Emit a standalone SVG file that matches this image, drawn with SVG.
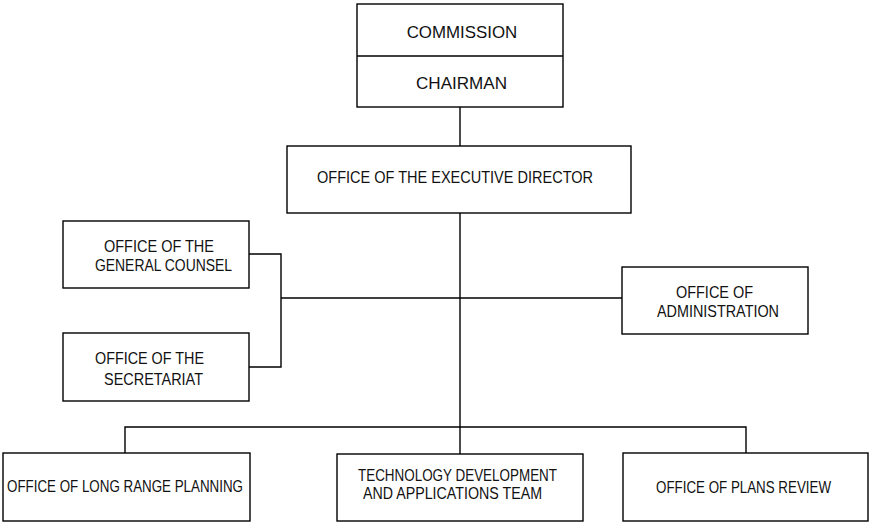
<svg xmlns="http://www.w3.org/2000/svg" width="871" height="523" viewBox="0 0 871 523">
<style>
.box{fill:#fff;stroke:#000;stroke-width:1.4}
.ln{fill:none;stroke:#000;stroke-width:1.4}
text{font-family:"Liberation Sans",Arial,sans-serif;font-size:16.5px;fill:#111}
</style>
<rect width="871" height="523" fill="#fff"/>
<g id="connectors">
<path class="ln" d="M460 107V146"/>
<path class="ln" d="M460 213V454"/>
<path class="ln" d="M249 254H281V367H249"/>
<path class="ln" d="M281 298H622"/>
<path class="ln" d="M125 453V427H746V453"/>
</g>
<g id="commission">
<rect class="box" x="357" y="4" width="206" height="103"/>
<path class="ln" d="M357 56H563"/>
<text x="406.7" y="37.5" textLength="110.6" lengthAdjust="spacingAndGlyphs">COMMISSION</text>
<text x="416" y="89" textLength="91" lengthAdjust="spacingAndGlyphs">CHAIRMAN</text>
</g>
<g id="executive-director">
<rect class="box" x="287" y="146" width="344" height="67"/>
<text x="317" y="183" textLength="276" lengthAdjust="spacingAndGlyphs">OFFICE OF THE EXECUTIVE DIRECTOR</text>
</g>
<g id="general-counsel">
<rect class="box" x="63" y="221" width="186" height="67"/>
<text x="104" y="251.5" textLength="110" lengthAdjust="spacingAndGlyphs">OFFICE OF THE</text>
<text x="95" y="271" textLength="137" lengthAdjust="spacingAndGlyphs">GENERAL COUNSEL</text>
</g>
<g id="secretariat">
<rect class="box" x="63" y="333" width="186" height="68"/>
<text x="95" y="364" textLength="109" lengthAdjust="spacingAndGlyphs">OFFICE OF THE</text>
<text x="104" y="385" textLength="99" lengthAdjust="spacingAndGlyphs">SECRETARIAT</text>
</g>
<g id="administration">
<rect class="box" x="622" y="267" width="186" height="67"/>
<text x="676" y="297.5" textLength="77" lengthAdjust="spacingAndGlyphs">OFFICE OF</text>
<text x="657" y="316.5" textLength="122" lengthAdjust="spacingAndGlyphs">ADMINISTRATION</text>
</g>
<g id="long-range-planning">
<rect class="box" x="3" y="453" width="247" height="68"/>
<text x="7" y="492" textLength="236" lengthAdjust="spacingAndGlyphs">OFFICE OF LONG RANGE PLANNING</text>
</g>
<g id="technology-development">
<rect class="box" x="337" y="454" width="246" height="67"/>
<text x="358" y="481" textLength="199" lengthAdjust="spacingAndGlyphs">TECHNOLOGY DEVELOPMENT</text>
<text x="363" y="498.5" textLength="179" lengthAdjust="spacingAndGlyphs">AND APPLICATIONS TEAM</text>
</g>
<g id="plans-review">
<rect class="box" x="623" y="453" width="245" height="68"/>
<text x="656" y="493" textLength="175" lengthAdjust="spacingAndGlyphs">OFFICE OF PLANS REVIEW</text>
</g>
</svg>
